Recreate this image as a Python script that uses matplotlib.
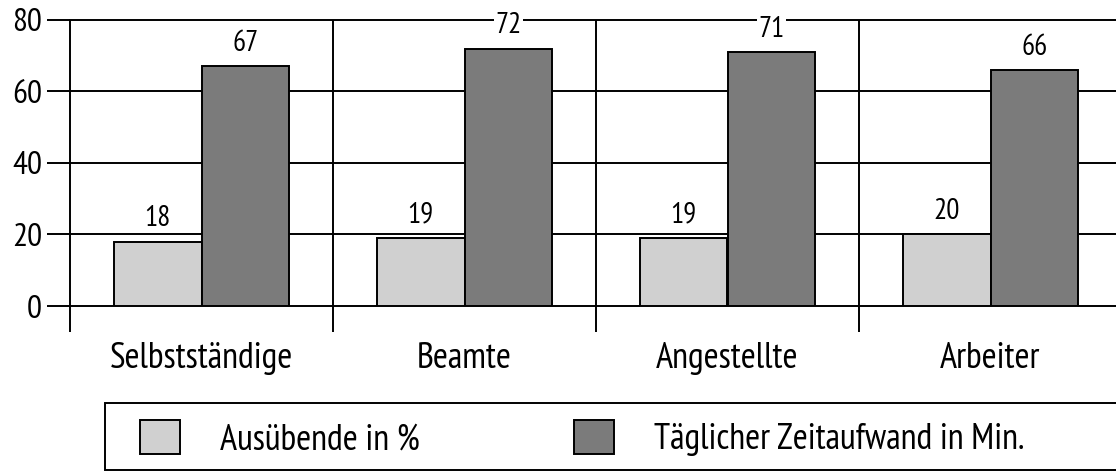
import numpy as np
import matplotlib.pyplot as plt
from matplotlib.patches import Rectangle

kategorien = ["Selbstständige", "Beamte", "Angestellte", "Arbeiter"]
ausuebende = [18, 19, 19, 20]
zeitaufwand = [67, 72, 71, 66]
serien = ["Ausübende in %", "Täglicher Zeitaufwand in Min."]
yticks = [0, 20, 40, 60, 80]

plt.rcParams['font.family'] = ['PT Sans Narrow', 'DejaVu Sans']
hell = '#d0d0d0'
dunkel = '#7b7b7b'
lw = 1.4

W, H = 1116, 472
fig = plt.figure(figsize=(W / 100, H / 100), dpi=100)
ax = fig.add_axes([70 / W, 166 / H, 1046 / W, 286 / H])

x = np.arange(len(kategorien))
b = 0.333
b1 = ax.bar(x - b / 2, ausuebende, b, color=hell, edgecolor='black', linewidth=lw, zorder=3, label=serien[0])
b2 = ax.bar(x + b / 2, zeitaufwand, b, color=dunkel, edgecolor='black', linewidth=lw, zorder=3, label=serien[1])

# werte ueber den balken (die hohen werte unterbrechen die 80er linie)
for bars, werte, box in [(b1, ausuebende, None),
                         (b2, zeitaufwand, dict(facecolor='white', edgecolor='none', pad=1))]:
    for r, v in zip(bars, werte):
        ax.annotate(str(v), (r.get_x() + r.get_width() / 2, v), xytext=(0, 16.5),
                    textcoords='offset points', ha='center', va='center', fontsize=21,
                    zorder=5, bbox=box)

ax.set_ylim(0, 80)
ax.set_xlim(-0.5, -0.5 + 1046 / 263)
ax.set_yticks(yticks)
ax.grid(axis='y', color='black', linewidth=lw, zorder=1)
for g in ax.get_ygridlines():
    g.set_clip_on(False)
ax.tick_params(axis='y', length=16.6, width=lw, pad=3.5, labelsize=24, color='black')

ax.set_xticks(x, kategorien)
ax.tick_params(axis='x', length=0, pad=26, labelsize=26)

# trennlinien zwischen den gruppen
ax.vlines(x - 0.5, -7.3, 80, color='black', linewidth=lw, clip_on=False, zorder=2)

for s in ax.spines.values():
    s.set_visible(False)

# legende
fig.patches.append(Rectangle((105 / W, 1 - 470 / H), 1.1, 67 / H, transform=fig.transFigure,
                             facecolor='white', edgecolor='black', linewidth=lw))
fig.legend(handles=[b1, b2], loc='center left', bbox_to_anchor=(140 / W, 1 - 438 / H),
           ncol=2, frameon=False, fontsize=26, borderpad=0, borderaxespad=0,
           handlelength=1.11, handleheight=1.08, handletextpad=1.11, columnspacing=4.27)

plt.savefig("out.png", dpi=100)
